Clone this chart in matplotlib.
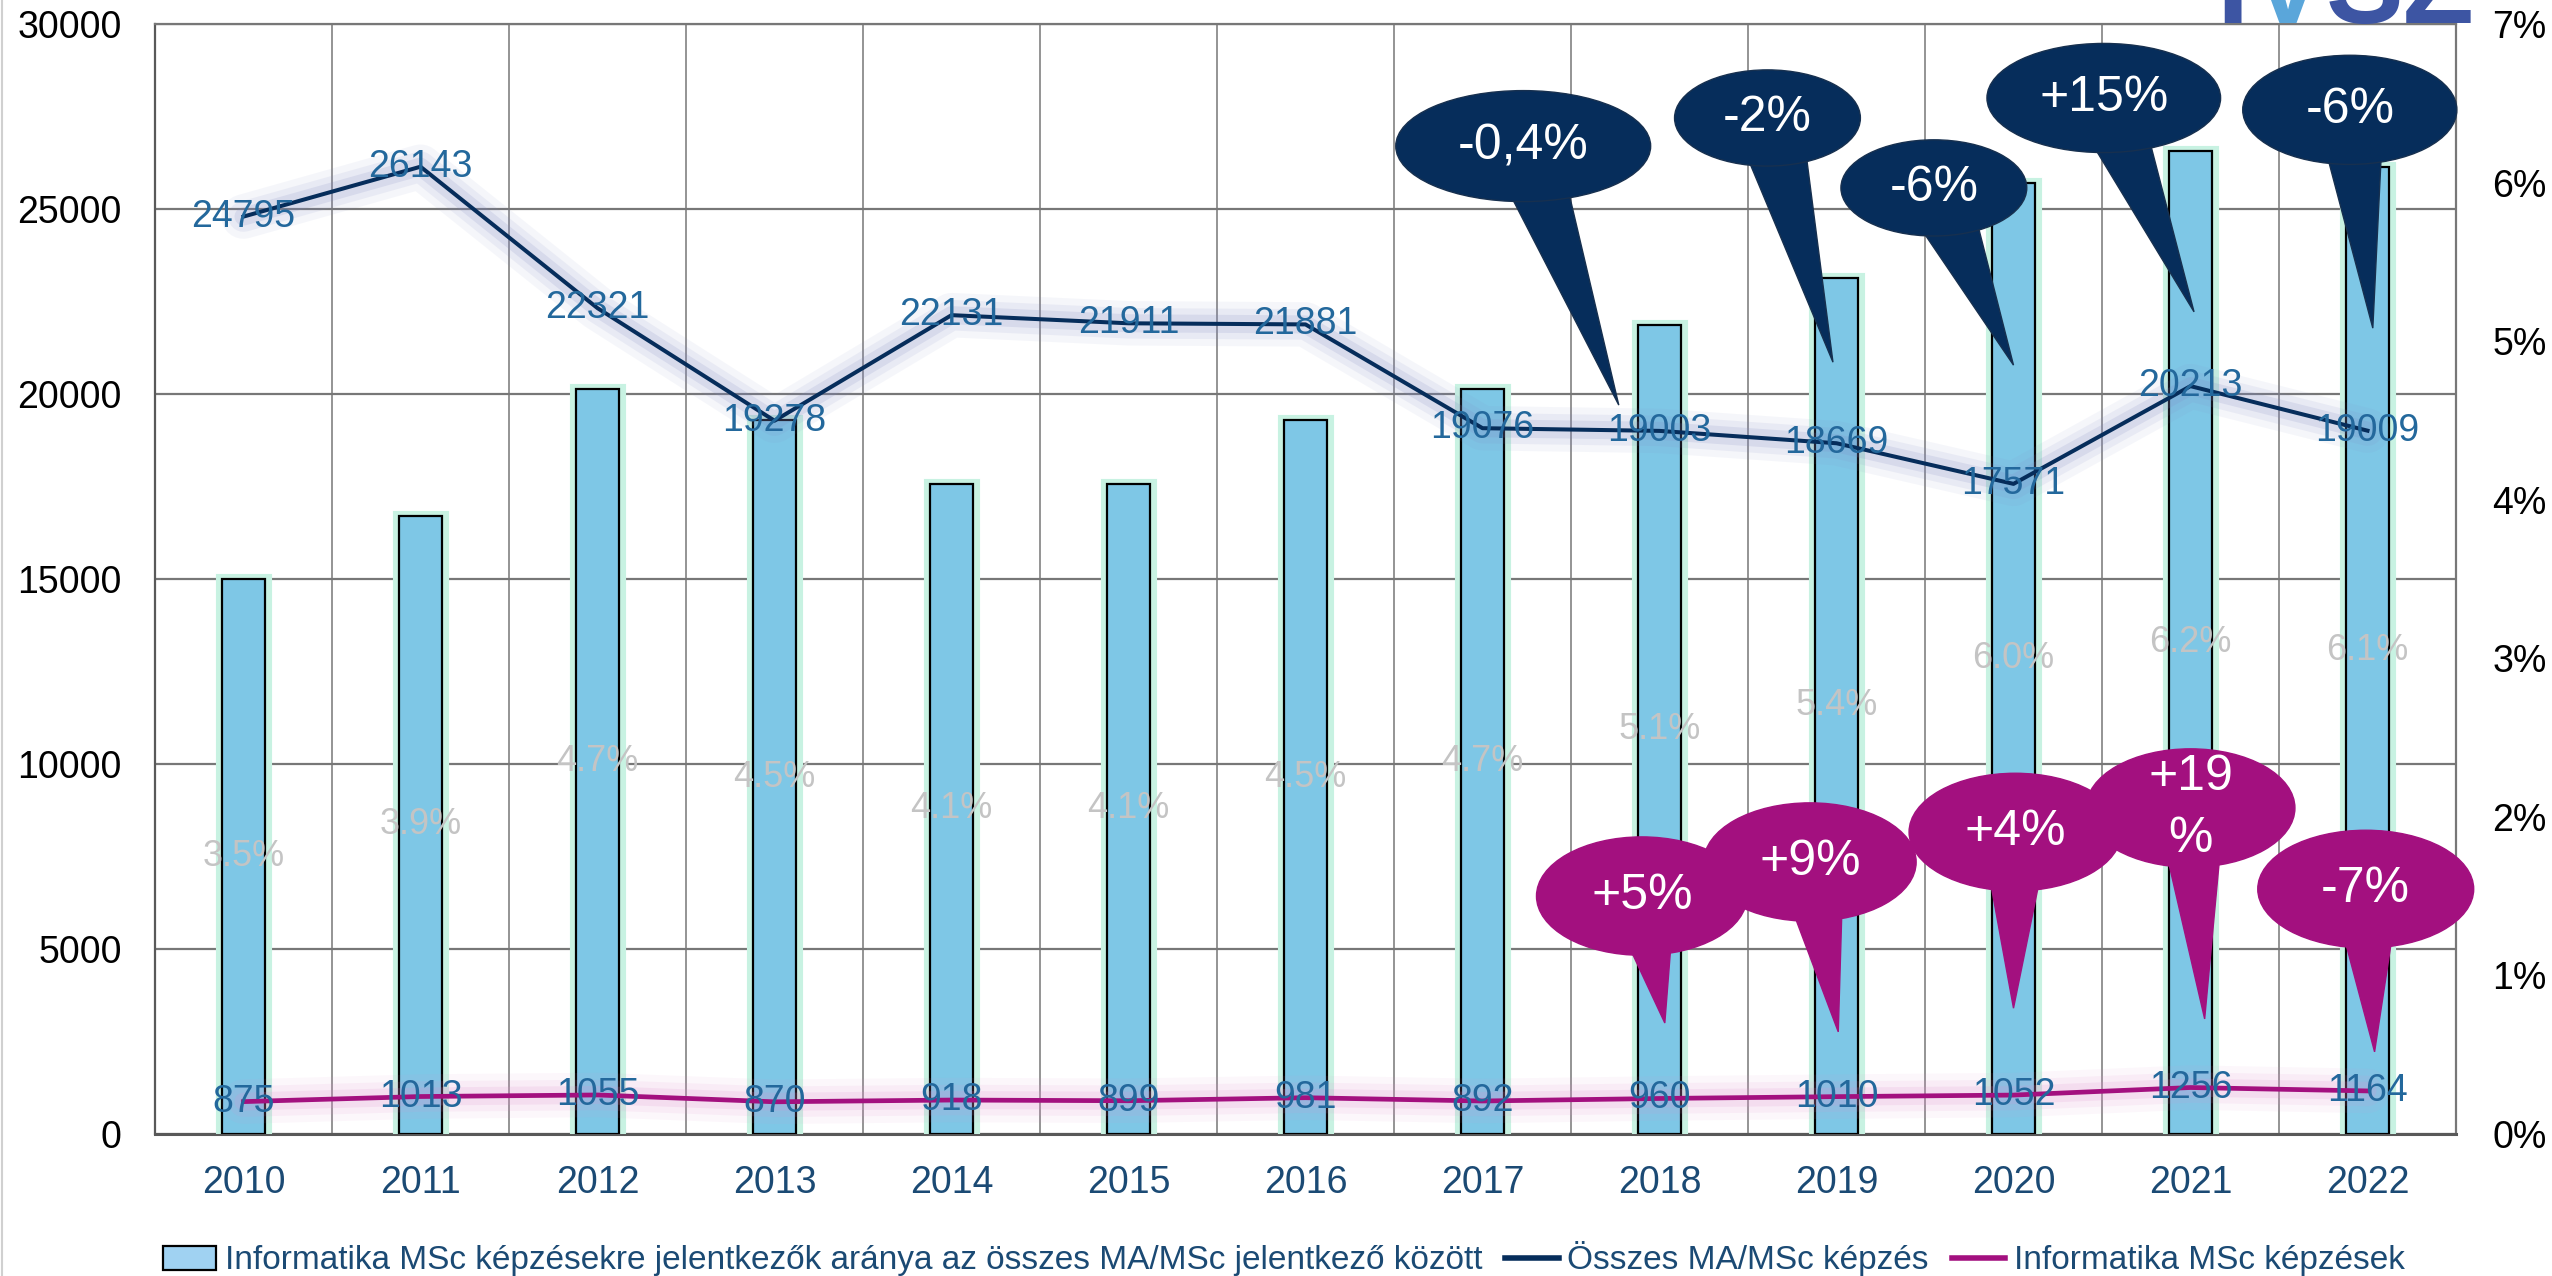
import matplotlib
matplotlib.use("Agg")
import matplotlib.pyplot as plt
from matplotlib.patches import Ellipse, Polygon, Patch
from matplotlib.lines import Line2D
from matplotlib.ticker import FuncFormatter, MultipleLocator, FixedLocator
import numpy as np

plt.rcParams['font.family'] = ['Liberation Sans', 'DejaVu Sans']

# data
years = ['2010', '2011', '2012', '2013', '2014', '2015', '2016',
         '2017', '2018', '2019', '2020', '2021', '2022']
it_share = [3.5, 3.9, 4.7, 4.5, 4.1, 4.1, 4.5, 4.7, 5.1, 5.4, 6.0, 6.2, 6.1]
all_ma_msc = [24795, 26143, 22321, 19278, 22131, 21911, 21881,
              19076, 19003, 18669, 17571, 20213, 19009]
it_msc = [875, 1013, 1055, 870, 918, 899, 981, 892, 960, 1010, 1052, 1256, 1164]

all_change = ['-0,4%', '-2%', '-6%', '+15%', '-6%']
it_change = ['+5%', '+9%', '+4%', '+19\n%', '-7%']

label_bar = 'Informatika MSc képzésekre jelentkezők aránya az összes MA/MSc jelentkező között'
label_all = 'Összes MA/MSc képzés'
label_it = 'Informatika MSc képzések'

# bubble layout: (center x, center y, width, height, tip x, tip y) in data units
all_bubbles = [(7.23, 26700, 1.44, 3000, 7.77, 19700),
               (8.61, 27460, 1.05, 2600, 8.98, 20860),
               (9.55, 25570, 1.05, 2600, 10.00, 20780),
               (10.51, 28000, 1.32, 2950, 11.02, 22220),
               (11.90, 27680, 1.21, 2950, 12.03, 21780)]
it_bubbles = [(7.90, 6430, 1.19, 3200, 8.03, 3000),
              (8.85, 7350, 1.20, 3200, 9.01, 2760),
              (10.01, 8160, 1.20, 3180, 10.00, 3400),
              (11.00, 8810, 1.18, 3200, 11.08, 3110),
              (11.99, 6620, 1.22, 3180, 12.04, 2220)]

navy = '#062D5B'
magenta = '#A3107F'
bar_color = '#7EC7E6'
label_blue = '#23689C'
text_blue = '#1B4A74'
grid_gray = '#777777'

x = np.arange(len(years))

fig = plt.figure(figsize=(25.52, 12.76), dpi=100)
ax = fig.add_axes([155 / 2552, 1 - 1134 / 1276, 2301 / 2552, 1110 / 1276])

# left axis + grid
ax.set_xlim(-0.5, len(years) - 0.5)
ax.set_ylim(0, 30000)
ax.yaxis.set_major_locator(MultipleLocator(5000))
ax.set_xticks(x)
ax.set_xticklabels(years)
ax.xaxis.set_minor_locator(FixedLocator(x[:-1] + 0.5))
ax.grid(axis='y', which='major', color=grid_gray, lw=1.6)
ax.grid(axis='x', which='minor', color=grid_gray, lw=1.1)
ax.set_axisbelow(True)
ax.tick_params(axis='y', length=0, pad=24, labelsize=27, labelcolor='black')
ax.tick_params(axis='x', which='both', length=0, pad=22, labelsize=27, labelcolor=text_blue)
for side in ['top', 'right']:
    ax.spines[side].set_color(grid_gray)
    ax.spines[side].set_linewidth(1.6)
ax.spines['left'].set_color('#595959')
ax.spines['left'].set_linewidth(1.6)
ax.spines['bottom'].set_color('#595959')
ax.spines['bottom'].set_linewidth(2.2)

# right axis with the bars
ax2 = ax.twinx()
ax2.set_ylim(0, 7)
ax2.yaxis.set_major_locator(MultipleLocator(1))
ax2.yaxis.set_major_formatter(FuncFormatter(lambda v, p: f'{v:.0f}%'))
ax2.tick_params(axis='y', length=0, pad=26, labelsize=27, labelcolor='black')
for s in ax2.spines.values():
    s.set_visible(False)

ax2.bar(x, it_share, width=0.25, color='none', edgecolor='#C8F2E2', linewidth=8, zorder=1)
ax2.bar(x, it_share, width=0.245, color=bar_color, edgecolor='black', linewidth=1.6, zorder=2)
for xi, v in zip(x, it_share):
    ax2.text(xi, v / 2, f'{v:.1f}%', ha='center', va='center', fontsize=26,
             color='#C4C4C4', zorder=3)

# top axis with the lines and callouts
ax3 = ax.twinx()
ax3.set_ylim(0, 30000)
ax3.set_yticks([])
for s in ax3.spines.values():
    s.set_visible(False)

for w, a in [(32, 0.07), (22, 0.10), (13, 0.16)]:
    ax3.plot(x, all_ma_msc, color='#7F87C2', lw=w, alpha=a, solid_capstyle='round',
             solid_joinstyle='round', zorder=2)
    ax3.plot(x, it_msc, color='#E08FD0', lw=w, alpha=a, solid_capstyle='round',
             solid_joinstyle='round', zorder=2)
ax3.plot(x, all_ma_msc, color=navy, lw=2.9, zorder=3)
ax3.plot(x, it_msc, color=magenta, lw=3.4, zorder=3)

for xi, v in zip(x, all_ma_msc):
    ax3.text(xi, v, str(v), ha='center', va='center', fontsize=27, color=label_blue, zorder=4)
for xi, v in zip(x, it_msc):
    ax3.text(xi, v, str(v), ha='center', va='center', fontsize=27, color=label_blue, zorder=4)


def bubble(axis, spec, text, color, edge):
    cx, cy, w, h, tx, ty = spec
    tr = axis.transData
    c = tr.transform((cx, cy))
    t = tr.transform((tx, ty))
    d = (t - c) / np.hypot(*(t - c))
    n = np.array([-d[1], d[0]])
    hw = 34
    pts = np.array([c + n * hw, c - n * hw, t])
    pts = tr.inverted().transform(pts)
    axis.add_patch(Polygon(pts, closed=True, facecolor=color, edgecolor=edge,
                           lw=1.0, zorder=5, clip_on=False))
    axis.add_patch(Ellipse((cx, cy), w, h, facecolor=color, edgecolor=edge,
                           lw=1.0, zorder=5, clip_on=False))
    axis.text(cx, cy, text, ha='center', va='center', fontsize=36, color='white',
              zorder=6, linespacing=1.45)


for spec, txt in zip(all_bubbles, all_change):
    bubble(ax3, spec, txt, navy, '#17304F')
for spec, txt in zip(it_bubbles, it_change):
    bubble(ax3, spec, txt, magenta, magenta)

# logo (cut at the top of the picture)
logo_kw = dict(fontsize=84, fontweight='bold', va='baseline', ha='left')
t1 = fig.text(2216 / 2552, 1 - 23 / 1276, 'I', color='#3D55A3', **logo_kw)
t2 = fig.text(0, 0, 'V', color='#5AA6DA', **logo_kw)
t3 = fig.text(0, 0, 'SZ', color='#3D55A3', **logo_kw)
fig.canvas.draw()
r = fig.canvas.get_renderer()
inv = fig.transFigure.inverted()
x1 = inv.transform((t1.get_window_extent(r).x1, 0))[0]
t2.set_position((x1, 1 - 23 / 1276))
x2 = inv.transform((t2.get_window_extent(r).x1, 0))[0]
t3.set_position((x2, 1 - 23 / 1276))

# thin frame line at the left edge
fig.add_artist(Line2D([0.0008, 0.0008], [0, 1], color='#D0D0D0', lw=1.5))

# legend
handles = [Patch(facecolor='#A0D2F2', edgecolor='black', linewidth=1.6),
           Line2D([0], [0], color=navy, lw=4),
           Line2D([0], [0], color=magenta, lw=4)]
fig.legend(handles, [label_bar, label_all, label_it], loc='center',
           bbox_to_anchor=(0.503, 1 - 1259 / 1276), ncol=3, frameon=False,
           fontsize=24, handlelength=1.6, handletextpad=0.25, columnspacing=0.7,
           labelcolor=text_blue)

fig.savefig('out.png', dpi=100)
